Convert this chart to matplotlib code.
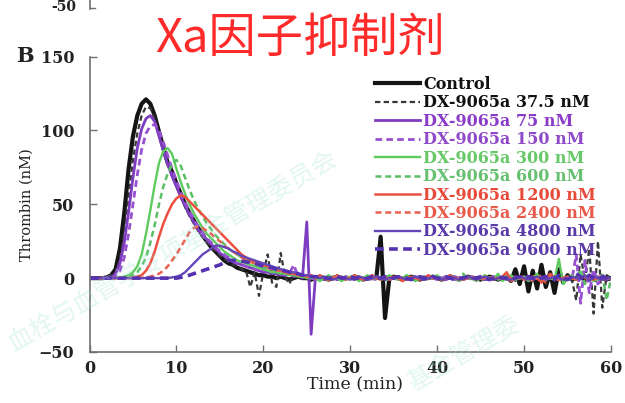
import numpy as np
import matplotlib
matplotlib.use("Agg")
import matplotlib.pyplot as plt
from matplotlib.font_manager import FontProperties

plt.rcParams["font.family"] = ["DejaVu Serif"]
plt.rcParams["font.weight"] = "bold"

# sampling times (min), one reading every 0.5 min
TIME = np.arange(0, 60.01, 0.5)

# thrombin (nM), rows of 5 min
CONTROL = [
    0, 0, 0, 0, 0.5, 2, 6, 20, 44, 74,
    96, 110, 118, 121, 118, 110, 99, 88, 78, 72,
    64, 57, 50, 44, 39, 34, 29, 25, 21, 18,
    15, 12, 10, 9, 7, 6, 5, 4, 3, 2,
    2, 1, 1, 0, 1, 0, -1, 0, 1, 0,
    0, -1, 0, 1, 0, -1, 0, 1, 0, 0,
    0, 1, 0, -1, 0, 0, 0, 28, -27, 0,
    1, 0, -1, 0, 1, 0, -1, 0, 0, 1,
    0, -1, 0, 1, 0, -1, 0, 1, 0, 0,
    -1, 0, 1, 0, -1, 0, 1, -2, 6, -4,
    8, -9, 5, -7, 9, -6, 4, -10, 6, -3,
    2, -1, 0, 1, -1, 0, 1, 0, 0, -1,
    0,
]
DX_37_5 = [
    0, 0, 0, 0, 0, 1, 4, 13, 31, 56,
    80, 98, 110, 116, 115, 108, 97, 86, 77, 69,
    62, 55, 48, 42, 37, 32, 28, 24, 21, 18,
    15, 13, 11, 9, 8, 6, 5, -6, 4, -12,
    4, 16, -3, -6, 17, 1, -4, 3, 2, 0,
    1, -2, 0, 2, -1, 0, 1, -1, 0, 1,
    0, -1, 1, 0, -1, 0, 1, 0, -1, 0,
    0, 1, 0, -1, 0, 1, -1, 0, 1, 0,
    0, -1, 0, 1, 0, -1, 0, 1, -1, 0,
    1, 0, -1, 0, 1, -1, 0, 2, -2, 1,
    0, -2, 1, 0, -1, 2, 0, -1, 1, 0,
    0, -1, -15, 16, -2, 20, -24, 25, -20, 2,
    0,
]
DX_75 = [
    0, 0, 0, 0, 0, 0.5, 3, 10, 24, 45,
    68, 88, 101, 108, 110, 106, 96, 86, 77, 69,
    62, 55, 49, 43, 38, 33, 29, 26, 23, 20,
    17, 15, 13, 11, 10, 9, 8, 7, 6, 5,
    4, 4, 3, 3, 2, 2, 3, 1, 2, 0,
    38, -38, 1, 0, -1, 1, 0, -1, 0, 1,
    0, -1, 1, 0, -1, 0, 1, 0, 0, -1,
    0, 1, 0, -1, 0, 1, 0, -1, 0, 0,
    1, 0, -1, 0, 1, 0, -1, 0, 1, 0,
    0, -1, 0, 1, 0, -1, 0, 1, -1, 0,
    1, 0, -1, 0, 1, -1, 0, 1, 0, -1,
    0, 1, -1, 0, 1, -1, 0, 1, 0, -1,
    0,
]
DX_150 = [
    0, 0, 0, 0, 0, 0, 1, 5, 14, 30,
    50, 70, 87, 98, 103, 104, 100, 92, 83, 74,
    66, 58, 51, 45, 40, 35, 31, 27, 24, 21,
    18, 16, 14, 12, 10, 9, 8, 7, 6, 5,
    5, 9, 4, 3, 7, 2, 3, 9, 1, 1,
    1, 0, -1, 1, 0, -1, 0, 1, 0, -1,
    0, 1, 0, -1, 1, 0, -1, 0, 1, 0,
    0, -1, 0, 1, 0, -1, 0, 1, 0, 0,
    -1, 0, 1, 0, -1, 0, 1, 0, -1, 0,
    1, 0, -1, 0, 1, 0, -1, 0, 1, 0,
    -1, 0, 1, 0, -1, 0, 1, 0, -1, 1,
    0, -1, 16, -17, 12, -10, 6, -4, 2, 0,
    0,
]
DX_300 = [
    0, 0, 0, 0, 0, 0, 0, 0.5, 1, 2,
    4, 8, 16, 30, 46, 63, 78, 86, 88, 84,
    74, 65, 57, 50, 44, 39, 34, 30, 27, 24,
    21, 18, 16, 14, 12, 11, 10, 9, 8, 7,
    6, 5, 4, 4, 3, 3, 2, 2, 1, 1,
    0, 2, 0, -2, 0, 2, 0, 0, -2, 0,
    1, 0, -2, 0, 2, 0, 0, -1, 0, 2,
    0, -1, 0, 2, 0, -2, 0, 1, 0, 0,
    2, -1, 0, 2, 0, -2, 0, 1, 0, -2,
    0, 2, 0, -1, 3, -2, 0, 2, -1, 0,
    1, -2, 0, 3, -2, 1, 0, -1, 13, -4,
    0, 2, -1, 0, 2, 0, -2, 0, 1, 0,
    0,
]
DX_600 = [
    0, 0, 0, 0, 0, 0, 0, 0, 0.5, 1,
    2, 4, 8, 14, 24, 36, 50, 62, 71, 77,
    80, 76, 68, 60, 53, 47, 42, 37, 33, 29,
    26, 23, 20, 18, 16, 14, 12, 11, 10, 9,
    8, 7, 6, 5, 4, 3, 3, 2, 2, 1,
    1, 0, 2, 0, -2, 0, 1, 0, -2, 0,
    0, 2, 0, -1, 0, 2, 0, 0, -2, 0,
    1, 0, -2, 0, 1, 0, -1, 0, 2, 0,
    0, -1, 0, 2, 0, -1, 3, -1, 0, 1,
    0, -2, 0, 1, -1, 0, 2, -2, 1, 0,
    0, 1, -1, 0, 2, -1, 0, 1, -1, 0,
    1, 0, -1, 6, -4, 1, 0, -1, 3, -15,
    0,
]
DX_1200 = [
    0, 0, 0, 0, 0, 0, 0, 0, 0, 0,
    0.5, 1, 2, 5, 10, 18, 28, 37, 44, 50,
    54, 56, 55, 52, 49, 46, 43, 40, 37, 34,
    31, 28, 25, 22, 19, 16, 14, 12, 11, 10,
    9, 8, 7, 6, 5, 4, 4, 3, 2, 2,
    1, 2, 0, 2, 0, -1, 0, 2, 0, 0,
    0, 2, 0, -1, 0, 2, 0, -1, 0, 0,
    1, 0, -2, 0, 1, 0, -1, 0, 2, 0,
    0, -1, 0, 2, 0, -1, 0, 1, 0, -1,
    0, 1, 0, -1, 0, 1, 4, -2, 0, 1,
    -1, 0, 1, 0, -3, 0, 3, 0, -1, 0,
    1, 0, -1, 0, 1, 0, -1, 0, 1, 0,
    0,
]
DX_2400 = [
    0, 0, 0, 0, 0, 0, 0, 0, 0, 0,
    0, 0, 0, 0.5, 1, 2, 3, 5, 8, 12,
    16, 21, 26, 31, 34, 35, 34, 32, 30, 27,
    25, 22, 20, 18, 16, 14, 12, 11, 10, 9,
    8, 7, 6, 5, 5, 4, 3, 3, 2, 2,
    1, 1, 0, 1, 0, -1, 0, 1, 0, -1,
    0, 1, 0, 0, -1, 0, 1, 0, 0, -1,
    0, 1, 0, -1, 0, 1, 0, -1, 0, 1,
    0, -1, 0, 1, 0, 0, -1, 0, 1, 0,
    -1, 0, 1, 0, -1, 0, 1, 0, -1, 0,
    1, 0, -2, 0, 2, -3, 1, 0, -1, 0,
    1, 0, -1, 0, 1, -2, 0, 1, 0, -1,
    0,
]
DX_4800 = [
    0, 0, 0, 0, 0, 0, 0, 0, 0, 0,
    0, 0, 0, 0, 0, 0, 0, 0, 0, 0.5,
    1, 2, 4, 7, 10, 13, 16, 18, 20, 22,
    22, 21, 20, 18, 17, 15, 14, 13, 12, 11,
    10, 9, 8, 7, 6, 5, 4, 4, 3, 2,
    2, 1, 1, 0, 1, 0, -1, 0, 1, 0,
    -1, 0, 1, 0, -1, 0, 1, 0, -1, 0,
    0, 1, 0, -1, 0, 1, 0, -1, 0, 1,
    0, -1, 0, 1, 0, -1, 0, 1, 0, -1,
    0, 1, 0, -1, 0, 1, 0, -1, 0, 1,
    0, -1, 0, 1, 0, -1, 0, 1, 0, -1,
    0, 1, 0, -1, 2, -2, 1, 0, -1, 0,
    0,
]
DX_9600 = [
    0, 0, 0, 0, 0, 0, 0, 0, 0, 0,
    0, 0, 0, 0, 0, 0, 0, 0, 0, 0,
    0, 0.5, 1, 2, 3, 4, 5, 6, 7, 8,
    9, 10.5, 12, 12, 12, 11.5, 11, 10.5, 10, 9,
    8, 7.5, 7, 6, 5.5, 5, 4, 3.5, 3, 2,
    2, 1, 1, 0.5, 0, 0, 0, 1, 0, 0,
    1, 0, 0, -1, 0, 1, 0, 0, 1, 0,
    0, 1, 0, 0, -1, 0, 1, 0, 0, 1,
    0, 0, 1, 0, -1, 0, 0, 1, 0, 0,
    1, 0, -1, 0, 1, 0, 0, -1, 0, 1,
    0, 1, 0, -1, 0, 1, 0, -1, 2, 0,
    -1, 1, 3, 1, -1, 2, 0, -1, 1, 0,
    0,
]

SERIES = [CONTROL, DX_37_5, DX_75, DX_150, DX_300,
          DX_600, DX_1200, DX_2400, DX_4800, DX_9600]
LABELS = ["Control", "DX-9065a 37.5 nM", "DX-9065a 75 nM", "DX-9065a 150 nM",
          "DX-9065a 300 nM", "DX-9065a 600 nM", "DX-9065a 1200 nM",
          "DX-9065a 2400 nM", "DX-9065a 4800 nM", "DX-9065a 9600 nM"]
X_TICKS = [0, 10, 20, 30, 40, 50, 60]
Y_TICKS = [-50, 0, 50, 100, 150]

# line styling per series: colour, dashed?, width
COLORS = ["#141414", "#383838", "#7e3cc0", "#9650d0", "#5ecb5e",
          "#5cbf66", "#ec5040", "#e86050", "#6446b8", "#5532b0"]
DASHED = [False, True, False, True, False, True, False, True, False, True]
WIDTHS = [3.0, 1.6, 2.0, 2.0, 1.7, 1.8, 1.8, 1.8, 1.7, 2.6]
TEXT_COLORS = ["#111111", "#111111", "#8a3cc8", "#8e4ac8", "#66c866",
               "#66c070", "#e84a3a", "#e85a4a", "#5a3aa8", "#5a3aa8"]

W, H = 625, 403
fig = plt.figure(figsize=(W / 100, H / 100), dpi=100)
ax = fig.add_axes([89.5 / W, 1 - 352 / H, (611 - 89.5) / W, (352 - 56.5) / H])
ax.patch.set_alpha(0)

# faint diagonal watermark behind the plot
for text, (px, py) in [("血栓与血管学专项基金管理委员会", (10, 345)),
                       ("基金管理委", (410, 385))]:
    fig.text(px / W, 1 - py / H, text, rotation=30, rotation_mode="anchor",
             ha="left", va="center", fontsize=18, color="#9fe3d6", alpha=0.3,
             family=["Noto Sans CJK SC"], fontweight="normal", zorder=0)

handles = []
for vals, lab, c, d, lw in zip(SERIES, LABELS, COLORS, DASHED, WIDTHS):
    ln, = ax.plot(TIME, vals, color=c, lw=lw, label=lab, solid_joinstyle="round")
    if d:
        ln.set_dashes((2.4, 1.5))
    handles.append(ln)

ax.set_xlim(0, 60)
ax.set_ylim(-50, 150)
ax.set_xticks(X_TICKS)
ax.set_yticks(Y_TICKS)
for s in ["top", "right"]:
    ax.spines[s].set_visible(False)
for s in ["left", "bottom"]:
    ax.spines[s].set_color("#707070")
    ax.spines[s].set_linewidth(1.2)
ax.tick_params(axis="both", direction="in", length=5, width=1, color="#707070",
               labelsize=11.5, labelcolor="#222222")
ax.tick_params(axis="y", pad=11)
ax.tick_params(axis="x", pad=6)

ax.set_xlabel("Time (min)", fontsize=12.5, color="#222222", va="center")
ax.xaxis.set_label_coords((354.6 - 89.5) / 521.5, (352 - 385) / 295.5)
ax.set_ylabel("Thrombin (nM)", fontsize=10.5, color="#222222", va="center")
ax.yaxis.set_label_coords((27 - 89.5) / 521.5, 0.5)

leg = ax.legend(handles, LABELS, loc="upper left",
                bbox_to_anchor=(375 / W, 1 - 76 / H), bbox_transform=fig.transFigure,
                frameon=False, prop=FontProperties(family="DejaVu Serif", weight="bold", size=11.5),
                handlelength=2.8, handletextpad=0.2, labelspacing=0.09,
                borderpad=0, borderaxespad=0)
for t, c in zip(leg.get_texts(), TEXT_COLORS):
    t.set_color(c)

# panel letter, chart title, and the cut-off tick of the panel above
fig.text(25 / W, 1 - 55.5 / H, "B", fontsize=15, ha="center", va="center", color="#222222")
fig.text(300 / W, 1 - 39 / H, "Xa因子抑制剂", fontsize=34, ha="center", va="center",
         color="#ff2a2a", family=["Noto Sans CJK SC", "DejaVu Sans"], fontweight="normal")
fig.text(76 / W, 1 - 7 / H, "-50", fontsize=10, ha="right", va="center", color="#222222")
fig.add_artist(plt.Line2D([89.5 / W, 89.5 / W], [1, 1 - 9 / H], color="#707070", lw=1.2))
fig.add_artist(plt.Line2D([89.5 / W, 95 / W], [1 - 8 / H, 1 - 8 / H], color="#707070", lw=1))

fig.savefig("out.png", dpi=100)
